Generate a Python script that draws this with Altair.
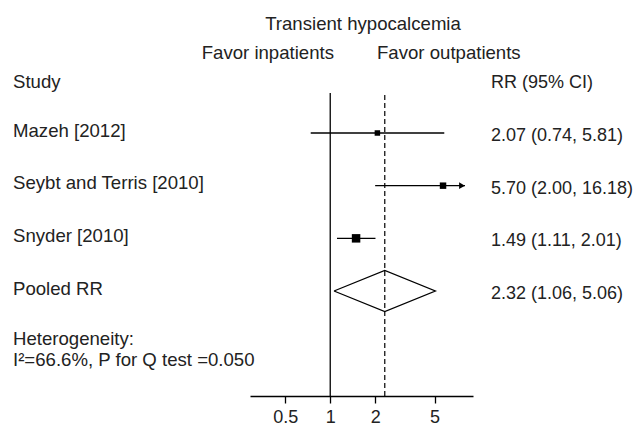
import altair as alt
import pandas as pd

# ---- data ----
studies = ["Mazeh [2012]", "Seybt and Terris [2010]", "Snyder [2010]"]
rr = [2.07, 5.70, 1.49]
ci_low = [0.74, 2.00, 1.11]
ci_high = [5.81, 16.18, 2.01]
weights = [21, 29, 50]  # relative study weights (%), read from square areas

pooled_label = "Pooled RR"
pooled_rr = 2.32
pooled_low = 1.06
pooled_high = 5.06

tick_values = [0.5, 1, 2, 5]
x_domain = [0.29, 9.05]
arrow_clip = 8.0

title_text = "Transient hypocalcemia"
favor_left = "Favor inpatients"
favor_right = "Favor outpatients"
header_left = "Study"
header_right = "RR (95% CI)"
het_lines = ["Heterogeneity:", "I\u00b2=66.6%, P for Q test =0.050"]

# ---- layout constants ----
FONT = "Liberation Sans"
FS_L = 18.6   # left column, title and "favor" labels
FS_R = 18     # right column and tick labels
TXT = "#222222"
W, H = 223, 396
Y_DOMAIN = [-1.525, 5.993]
REF_TOP_ROW = 0.24
DIAMOND_HALF = 0.39

rows = list(range(1, len(studies) + 1))
pooled_row = len(studies) + 1


def fmt(e, lo, hi):
    return f"{e:.2f} ({lo:.2f}, {hi:.2f})"


study_df = pd.DataFrame({
    "label": studies,
    "rr": rr,
    "lo": ci_low,
    "hi_draw": [min(h, arrow_clip) for h in ci_high],
    "row": rows,
    "weight": weights,
})
arrow_df = study_df[[h > arrow_clip for h in ci_high]].copy()

label_df = pd.DataFrame({
    "label": studies + [pooled_label],
    "ci": [fmt(e, l, h) for e, l, h in zip(rr, ci_low, ci_high)] + [fmt(pooled_rr, pooled_low, pooled_high)],
    "row": rows + [pooled_row],
})

diamond_df = pd.DataFrame({
    "dx": [pooled_low, pooled_rr, pooled_high, pooled_rr, pooled_low],
    "dy": [pooled_row, pooled_row - DIAMOND_HALF, pooled_row, pooled_row + DIAMOND_HALF, pooled_row],
    "k": [0, 1, 2, 3, 4],
})

null_df = pd.DataFrame({"rx": [1.0], "top": [REF_TOP_ROW], "bot": [Y_DOMAIN[1]]})
pool_df = pd.DataFrame({"rx": [pooled_rr], "top": [REF_TOP_ROW + 0.04], "bot": [Y_DOMAIN[1]]})

xs = alt.Scale(type="log", domain=x_domain, nice=False)
ys = alt.Scale(domain=Y_DOMAIN, reverse=True, nice=False, zero=False)

x_axis = alt.Axis(values=tick_values, format="~g", title=None, grid=False,
                  domainColor="black", domainWidth=1.3, tickColor="black", tickWidth=1.3,
                  tickSize=7, labelPadding=5, labelFontSize=FS_R, labelFont=FONT,
                  labelColor=TXT)


def X(field):
    return alt.X(field, scale=xs, axis=x_axis)


def Y(field):
    return alt.Y(field, scale=ys, axis=None)


ci_lines = alt.Chart(study_df).mark_rule(color="black", strokeWidth=1.3).encode(
    x=X("lo:Q"), x2="hi_draw:Q", y=Y("row:Q"),
)

squares = alt.Chart(study_df).mark_square(color="black", filled=True, opacity=1).encode(
    x=X("rr:Q"), y=Y("row:Q"),
    size=alt.Size("weight:Q", scale=alt.Scale(domain=[0, 100], range=[0, 144]), legend=None),
)

arrows = alt.Chart(arrow_df).mark_point(
    shape="triangle-right", filled=True, color="black", opacity=1, size=45, xOffset=-3
).encode(x=X("hi_draw:Q"), y=Y("row:Q"))

diamond = alt.Chart(diamond_df).mark_line(color="black", strokeWidth=1.3).encode(
    x=X("dx:Q"), y=Y("dy:Q"), order=alt.Order("k:Q"),
)

null_line = alt.Chart(null_df).mark_rule(color="black", strokeWidth=1.3).encode(
    x=X("rx:Q"), y=Y("top:Q"), y2="bot:Q",
)

pool_line = alt.Chart(pool_df).mark_rule(color="black", strokeWidth=1.2, strokeDash=[5, 3]).encode(
    x=X("rx:Q"), y=Y("top:Q"), y2="bot:Q",
)

left_text = alt.Chart(label_df).mark_text(
    align="left", baseline="alphabetic", dy=3.5, font=FONT, fontSize=FS_L, color=TXT
).encode(x=alt.value(13 - 250), y=Y("row:Q"), text="label:N")

right_text = alt.Chart(label_df).mark_text(
    align="left", baseline="alphabetic", dy=8, font=FONT, fontSize=FS_R, color=TXT
).encode(x=alt.value(491 - 250), y=Y("row:Q"), text="ci:N")


def note(txt, x, y, align="left", fs=FS_L):
    return alt.Chart(pd.DataFrame({"t": [txt]})).mark_text(
        align=align, baseline="alphabetic", font=FONT, fontSize=fs, color=TXT
    ).encode(x=alt.value(x), y=alt.value(y), text="t:N")


notes = [
    note(title_text, 363 - 250, 30, "center"),
    note(favor_left, 334 - 250, 59, "right"),
    note(favor_right, 377 - 250, 59, "left"),
    note(header_left, 13 - 250, 88),
    note(header_right, 491 - 250, 88, fs=FS_R),
    note(het_lines[0], 13 - 250, 345),
    note(het_lines[1], 13 - 250, 366),
]

chart = alt.layer(
    null_line, pool_line, ci_lines, arrows, squares, diamond, left_text, right_text, *notes
).properties(
    width=W, height=H,
    autosize=alt.AutoSizeParams(type="none"),
    padding={"left": 250, "top": 0, "right": 636 - 250 - W, "bottom": 426 - H},
).configure_view(stroke=None)

chart.save("out.html", embed_options={"renderer": "svg", "actions": False})
